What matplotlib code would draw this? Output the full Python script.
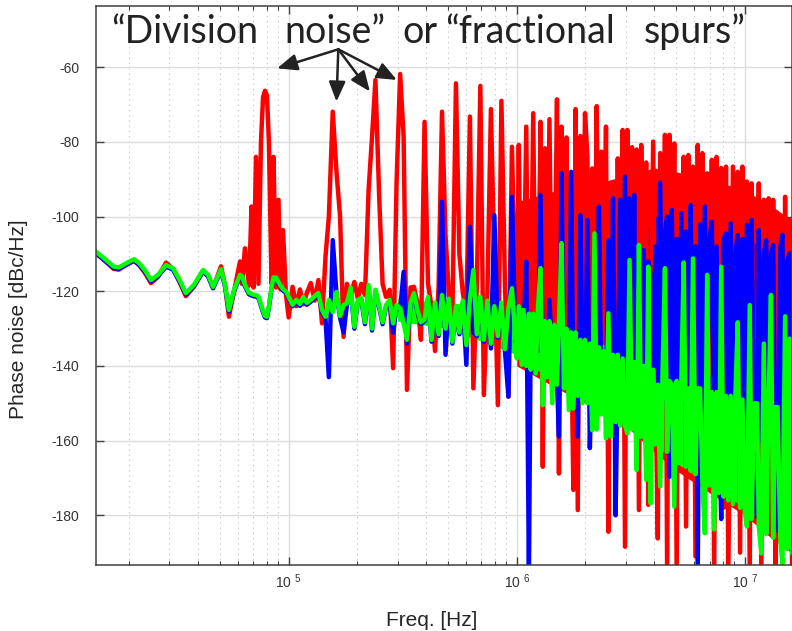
import numpy as np
import matplotlib
matplotlib.use('Agg')
import matplotlib.pyplot as plt
from matplotlib.ticker import LogLocator, NullFormatter

plt.rcParams['font.family'] = ['Liberation Sans', 'DejaVu Sans']
plt.rcParams['mathtext.fontset'] = 'custom'
plt.rcParams['mathtext.rm'] = 'Liberation Sans'
plt.rcParams['mathtext.it'] = 'Liberation Sans:italic'
plt.rcParams['mathtext.bf'] = 'Liberation Sans:bold'

# frequency points (Hz), shared by the three traces
freq_hz = [
    # below 100 kHz
    1.43e4, 1.56e4, 1.71e4, 1.80e4, 1.91e4, 2.10e4, 2.21e4, 2.34e4, 2.49e4, 2.67e4,
    2.90e4, 3.11e4, 3.34e4, 3.54e4, 3.84e4, 4.21e4, 4.43e4, 4.66e4, 4.85e4, 5.05e4,
    5.26e4, 5.47e4, 5.76e4, 6.12e4, 6.24e4, 6.43e4, 6.70e4, 6.87e4, 7.01e4, 7.19e4,
    7.37e4, 7.56e4, 7.72e4, 7.87e4, 8.03e4, 8.19e4, 8.41e4, 8.58e4, 8.80e4, 9.02e4,
    9.21e4, 9.44e4, 9.73e4, 1.00e5,
    # 100 kHz - 1 MHz
    1.04e5, 1.08e5, 1.12e5, 1.16e5, 1.20e5, 1.25e5, 1.30e5, 1.35e5, 1.40e5, 1.45e5,
    1.50e5, 1.56e5, 1.62e5, 1.68e5, 1.74e5, 1.80e5, 1.87e5, 1.94e5, 2.01e5, 2.08e5,
    2.16e5, 2.24e5, 2.32e5, 2.40e5, 2.49e5, 2.58e5, 2.67e5, 2.77e5, 2.87e5, 2.97e5,
    3.08e5, 3.19e5, 3.30e5, 3.42e5, 3.54e5, 3.67e5, 3.80e5, 3.94e5, 4.08e5, 4.23e5,
    4.38e5, 4.54e5, 4.70e5, 4.87e5, 5.04e5, 5.22e5, 5.41e5, 5.60e5, 5.80e5, 6.01e5,
    6.23e5, 6.45e5, 6.68e5, 6.92e5, 7.17e5, 7.43e5, 7.70e5, 7.97e5, 8.26e5, 8.56e5,
    8.87e5, 9.19e5, 9.52e5, 9.86e5,
    # 1 MHz - 16 MHz
    1.00e6, 1.02e6, 1.05e6, 1.07e6, 1.10e6, 1.13e6, 1.15e6, 1.18e6, 1.21e6, 1.24e6,
    1.27e6, 1.30e6, 1.33e6, 1.36e6, 1.39e6, 1.43e6, 1.46e6, 1.50e6, 1.53e6, 1.57e6,
    1.61e6, 1.65e6, 1.69e6, 1.73e6, 1.77e6, 1.81e6, 1.85e6, 1.90e6, 1.94e6, 1.99e6,
    2.04e6, 2.09e6, 2.14e6, 2.19e6, 2.24e6, 2.29e6, 2.35e6, 2.40e6, 2.46e6, 2.52e6,
    2.58e6, 2.64e6, 2.71e6, 2.77e6, 2.84e6, 2.91e6, 2.98e6, 3.05e6, 3.12e6, 3.20e6,
    3.27e6, 3.35e6, 3.43e6, 3.51e6, 3.60e6, 3.69e6, 3.77e6, 3.86e6, 3.96e6, 4.05e6,
    4.15e6, 4.25e6, 4.35e6, 4.46e6, 4.56e6, 4.67e6, 4.78e6, 4.90e6, 5.02e6, 5.14e6,
    5.26e6, 5.39e6, 5.52e6, 5.65e6, 5.78e6, 5.92e6, 6.07e6, 6.21e6, 6.36e6, 6.51e6,
    6.67e6, 6.83e6, 6.99e6, 7.16e6, 7.33e6, 7.51e6, 7.69e6, 7.87e6, 8.06e6, 8.26e6,
    8.45e6, 8.66e6, 8.86e6, 9.08e6, 9.30e6, 9.52e6, 9.75e6, 9.98e6,
    1.02e7, 1.05e7, 1.07e7, 1.10e7, 1.13e7, 1.15e7, 1.18e7, 1.21e7, 1.24e7, 1.27e7,
    1.30e7, 1.33e7, 1.36e7, 1.39e7, 1.43e7, 1.46e7, 1.50e7, 1.53e7, 1.57e7, 1.61e7,
]

red_db = [
    -109.8, -111.8, -114.0, -114.2, -113.2, -111.8, -113.0, -115.0, -117.8, -116.2,
    -112.3, -114.0, -117.8, -121.3, -118.8, -114.6, -115.8, -119.0, -116.3, -113.3,
    -118.5, -126.8, -120.0, -112.0, -118.0, -108.5, -118.5, -97.3, -119.0, -84.0,
    -118.0, -80.0, -68.0, -66.3, -67.5, -80.0, -118.0, -84.0, -119.0, -95.5,
    -119.5, -103.6, -121.0, -127.0,
    -118.8, -124.0, -119.5, -123.5, -120.5, -117.8, -122.5, -117.0, -128.6, -110.7,
    -100.0, -71.9, -88.0, -100.0, -132.2, -118.0, -121.0, -117.5, -122.0, -118.0,
    -121.0, -92.9, -78.6, -63.4, -93.8, -118.0, -121.5, -119.6, -140.6, -91.1,
    -61.8, -78.6, -146.4, -119.0, -118.8, -123.2, -133.0, -74.6, -118.0, -124.0,
    -136.0, -119.0, -71.9, -105.0, -121.0, -126.5, -64.3, -110.0, -120.5, -126.0,
    -73.2, -146.0, -118.5, -65.0, -147.8, -121.0, -71.2, -112.0, -150.5, -69.0,
    -118.0, -148.2, -81.3, -121.0,
    -128.0, -80.8, -140.0, -126.0, -75.9, -150.0, -130.0, -72.3, -135.0, -127.0,
    -74.6, -167.0, -81.7, -132.0, -73.9, -140.0, -128.0, -68.6, -168.8, -75.9,
    -133.0, -78.8, -145.0, -130.0, -173.2, -71.2, -178.6, -78.4, -134.0, -72.3,
    -84.0, -150.0, -87.1, -132.0, -70.4, -138.0, -82.6, -131.0, -75.9, -184.4,
    -92.0, -136.0, -150.0, -84.4, -134.0, -76.8, -188.4, -76.8, -137.0, -81.4,
    -140.0, -82.0, -178.6, -80.8, -138.0, -85.5, -177.2, -135.0, -79.9, -142.0,
    -186.2, -83.0, -138.0, -78.1, -196.0, -78.1, -140.0, -80.4, -196.0, -89.3,
    -138.0, -84.0, -183.0, -83.5, -142.0, -86.6, -191.0, -80.8, -140.0, -83.0,
    -175.0, -88.4, -142.0, -84.8, -196.0, -84.0, -144.0, -87.0, -178.0, -86.6,
    -196.0, -140.0, -86.6, -145.0, -88.0, -190.0, -86.6, -145.0, -90.6, -196.0,
    -91.1, -146.0, -180.0, -91.1, -196.0, -95.5, -146.0, -95.1, -185.0, -95.5,
    -196.0, -99.1, -148.0, -186.0, -94.7, -150.0, -100.9, -196.0,
]

blue_db = [
    -109.8, -111.7, -113.8, -114.0, -113.1, -111.8, -112.9, -114.7, -117.4, -116.0,
    -113.4, -114.2, -117.6, -120.9, -118.7, -114.7, -116.0, -119.2, -116.9, -114.5,
    -118.7, -125.4, -120.0, -116.0, -116.3, -118.7, -120.8, -121.1, -121.3, -121.4,
    -121.8, -123.9, -125.7, -127.0, -127.2, -124.4, -119.4, -116.7, -116.7, -117.9,
    -118.9, -119.8, -120.4, -121.9,
    -124.0, -122.8, -123.9, -122.0, -123.6, -122.8, -121.8, -121.0, -125.5, -127.3,
    -143.0, -106.3, -120.7, -127.1, -131.0, -123.7, -119.5, -130.0, -122.8, -122.3,
    -128.8, -118.8, -130.5, -120.1, -124.2, -128.8, -124.2, -122.8, -131.1, -124.2,
    -125.0, -114.8, -134.0, -123.7, -121.0, -125.5, -128.8, -128.0, -122.0, -133.5,
    -123.5, -132.0, -96.0, -137.0, -122.5, -134.0, -124.5, -131.5, -123.0, -139.7,
    -102.7, -131.0, -132.0, -122.0, -133.5, -123.0, -135.3, -99.6, -132.5, -123.5,
    -136.0, -148.2, -94.7, -133.5,
    -134.0, -128.0, -136.0, -130.0, -112.1, -196.0, -132.0, -138.0, -130.0, -136.0,
    -94.2, -140.0, -132.0, -142.0, -122.3, -138.0, -133.0, -144.0, -158.9, -88.4,
    -140.0, -134.0, -146.0, -88.0, -146.4, -136.0, -158.9, -99.6, -140.0, -146.0,
    -100.9, -162.0, -138.0, -148.0, -140.0, -97.3, -150.0, -140.0, -148.0, -106.3,
    -150.0, -95.1, -180.0, -142.0, -95.5, -150.0, -89.3, -148.0, -95.1, -146.0,
    -94.2, -161.6, -110.0, -150.0, -109.0, -152.0, -112.0, -116.0, -150.0, -108.0,
    -155.0, -90.9, -150.0, -104.0, -100.0, -169.7, -98.2, -152.0, -106.0, -155.0,
    -99.1, -150.0, -104.0, -156.0, -96.9, -150.0, -108.0, -196.0, -102.0, -155.0,
    -97.3, -150.0, -106.0, -101.4, -156.0, -108.0, -152.0, -181.0, -106.0, -104.5,
    -156.0, -101.8, -155.0, -110.0, -104.9, -158.0, -106.0, -160.0, -102.2, -158.0,
    -100.9, -160.0, -180.4, -103.6, -160.0, -110.0, -106.3, -162.0, -110.0, -107.6,
    -162.0, -184.0, -108.0, -104.9, -188.0, -112.0, -109.8, -165.0,
]

green_db = [
    -109.4, -111.3, -113.4, -113.6, -112.7, -111.4, -112.5, -114.3, -117.0, -115.6,
    -113.0, -113.8, -117.2, -120.5, -118.3, -114.3, -115.6, -118.8, -116.5, -114.1,
    -118.3, -125.0, -119.6, -115.6, -115.9, -118.3, -120.4, -120.7, -120.9, -121.0,
    -121.4, -123.5, -125.3, -126.6, -126.8, -124.0, -119.0, -116.3, -116.3, -117.5,
    -118.5, -119.4, -120.0, -121.5,
    -123.6, -122.3, -123.4, -121.5, -123.1, -122.3, -121.3, -120.5, -125.0, -126.8,
    -122.3, -125.6, -120.2, -126.6, -123.7, -123.2, -119.0, -129.5, -122.3, -121.8,
    -128.3, -118.3, -130.0, -119.6, -123.7, -128.3, -123.7, -122.3, -128.6, -123.7,
    -124.5, -128.6, -133.0, -123.2, -120.5, -125.0, -128.3, -127.5, -121.5, -133.0,
    -123.0, -131.5, -121.0, -130.0, -122.0, -133.5, -124.0, -131.0, -122.5, -134.4,
    -122.0, -114.3, -131.5, -121.5, -133.0, -122.5, -134.0, -124.0, -132.0, -123.0,
    -135.5, -124.5, -119.2, -133.0,
    -138.0, -124.0, -139.7, -125.0, -140.0, -126.0, -141.0, -126.0, -142.0, -123.7,
    -113.8, -150.5, -128.0, -143.0, -128.0, -150.0, -129.0, -145.0, -129.0, -107.1,
    -146.0, -130.0, -151.8, -131.0, -151.4, -131.0, -148.0, -133.0, -150.0, -133.0,
    -150.0, -134.0, -157.2, -104.5, -157.0, -135.0, -153.0, -136.0, -159.4, -125.9,
    -158.9, -137.0, -155.0, -137.0, -156.0, -138.0, -156.0, -158.0, -111.6, -157.0,
    -139.0, -167.9, -107.6, -159.0, -140.0, -170.5, -113.4, -176.8, -141.0, -161.0,
    -145.0, -172.3, -143.0, -113.8, -163.0, -144.0, -145.0, -177.7, -144.0, -166.0,
    -145.0, -112.3, -167.0, -146.0, -168.0, -111.2, -169.0, -146.0, -146.0, -171.0,
    -184.8, -115.6, -172.0, -147.0, -183.8, -147.0, -174.0, -113.4, -175.0, -148.0,
    -176.0, -148.0, -177.0, -148.0, -128.3, -178.0, -149.0, -179.0, -183.0, -123.7,
    -181.0, -150.0, -150.0, -183.0, -190.2, -134.0, -185.0, -150.0, -121.0, -186.0,
    -151.0, -151.0, -187.0, -193.0, -126.7, -189.0, -132.7, -190.0,
]

assert len(freq_hz) == len(red_db) == len(blue_db) == len(green_db)

# where the traces are so dense they read as solid bands: band edges (dBc/Hz)
red_band_hz = [1.0e6, 1.5e6, 2.0e6, 3.0e6, 4.0e6, 5.0e6, 7.0e6, 1.0e7, 1.3e7, 1.6e7]
red_band_top = [-96, -93, -92, -89, -87, -88, -90, -93, -97, -101]
red_band_bottom = [-140, -146, -150, -156, -163, -168, -174, -180, -186, -190]

blue_band_hz = [3.3e6, 3.6e6, 4.0e6, 5.0e6, 7.0e6, 1.0e7, 1.3e7, 1.6e7]
blue_band_top = [-125, -106, -100, -100, -102, -106, -109, -113]
blue_band_bottom = [-150, -155, -160, -165, -170, -175, -180, -185]

green_band_hz = [3.0e5, 5.0e5, 1.0e6, 1.5e6, 2.0e6, 3.0e6, 4.0e6, 5.0e6, 7.0e6,
                 1.0e7, 1.3e7, 1.6e7]
green_band_top = [-122, -123, -125, -129, -132, -137, -142, -144, -147, -149, -146, -140]
green_band_bottom = [-128, -130, -137, -145, -149, -155, -161, -166, -172, -178, -184, -189]

y_ticks = [-180, -160, -140, -120, -100, -80, -60]
x_major = [1e5, 1e6, 1e7]
x_major_labels = [r'10 $^{5}$', r'10 $^{6}$', r'10 $^{7}$']

# headline words and their horizontal centres (pixels)
title_words = ['\u201cDivision', 'noise\u201d', 'or', '\u201cfractional', 'spurs\u201d']
title_x_px = [185, 335, 419.5, 530, 695]
arrow_from = (1.65e5, -55.2)
arrow_tips = [(8.9e4, -60.3), (1.62e5, -69.2), (2.27e5, -66.5), (2.98e5, -63.4)]

fig = plt.figure(figsize=(7.92, 6.31), dpi=100)
ax = fig.add_axes([96 / 792, 66 / 631, 695.5 / 792, 559 / 631])
ax.set_xscale('log')

lw = 3.2
ax.fill_between(red_band_hz, red_band_bottom, red_band_top, color='#ff0000', lw=0)
ax.plot(freq_hz, red_db, color='#ff0000', lw=lw)
ax.fill_between(blue_band_hz, blue_band_bottom, blue_band_top, color='#0000ff', lw=0)
ax.plot(freq_hz, blue_db, color='#0000ff', lw=lw)
ax.fill_between(green_band_hz, green_band_bottom, green_band_top, color='#00ff00', lw=0)
ax.plot(freq_hz, green_db, color='#00ff00', lw=lw)

ax.set_xlim(1.43e4, 1.6e7)
ax.set_ylim(-193.3, -43.6)

ax.set_xticks(x_major)
ax.set_xticklabels(x_major_labels)
ax.xaxis.set_minor_locator(LogLocator(base=10, subs=np.arange(2, 10)))
ax.xaxis.set_minor_formatter(NullFormatter())
ax.set_yticks(y_ticks)
ax.set_yticklabels([str(v) for v in y_ticks])

ax.set_axisbelow(True)
ax.grid(True, which='major', color='#dddddd', lw=1.0, ls='-')
ax.grid(True, which='minor', axis='x', color='#c8c8c8', lw=0.8, ls=(0, (1.2, 3.5)))

ax.tick_params(which='both', direction='in', top=True, right=True,
               colors='#404040', labelcolor='#333333', labelsize=10)
ax.tick_params(which='major', length=6, width=1)
ax.tick_params(which='minor', length=3, width=0.8)
ax.tick_params(axis='y', pad=12)
ax.tick_params(axis='x', pad=5)
for s in ax.spines.values():
    s.set_color('#404040')
    s.set_linewidth(1.1)

fig.text(432 / 792, 1 - 620 / 631, 'Freq. [Hz]', fontsize=15, color='#262626',
         ha='center', va='center')
fig.text(19 / 792, 1 - 319.5 / 631, 'Phase noise [dBc/Hz]', fontsize=15,
         color='#262626', ha='center', va='center', rotation=90)

for word, xp in zip(title_words, title_x_px):
    fig.text(xp / 792, 1 - 43 / 631, word, fontsize=27, family=['Lato', 'DejaVu Sans'],
             color='#222222', ha='center', va='baseline')

for tip in arrow_tips:
    ax.annotate('', xy=tip, xytext=arrow_from,
                arrowprops=dict(arrowstyle='-|>,head_length=0.6,head_width=0.25',
                                color='#222222', lw=1.8, shrinkA=0, shrinkB=0,
                                mutation_scale=20))

fig.savefig('out.png', dpi=100)
